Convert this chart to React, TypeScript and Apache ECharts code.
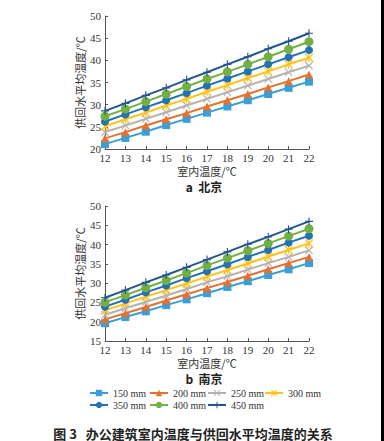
import React, { useEffect, useRef } from "react";
import * as echarts from "echarts";

const indoorTemps = [12, 13, 14, 15, 16, 17, 18, 19, 20, 21, 22];
const seriesNames = ["150 mm", "200 mm", "250 mm", "300 mm", "350 mm", "400 mm", "450 mm"];

// a 北京
const beijing150 = [21.1, 22.5, 23.9, 25.4, 26.8, 28.2, 29.6, 31.0, 32.4, 33.8, 35.2];
const beijing200 = [22.4, 23.8, 25.3, 26.7, 28.1, 29.6, 31.0, 32.4, 33.9, 35.3, 36.8];
const beijing250 = [23.8, 25.3, 26.8, 28.3, 29.8, 31.3, 32.8, 34.3, 35.8, 37.3, 38.8];
const beijing300 = [25.1, 26.7, 28.2, 29.8, 31.3, 32.9, 34.4, 36.0, 37.5, 39.1, 40.6];
const beijing350 = [26.2, 27.8, 29.4, 31.0, 32.6, 34.3, 35.9, 37.5, 39.1, 40.7, 42.3];
const beijing400 = [27.4, 29.0, 30.7, 32.4, 34.1, 35.8, 37.4, 39.1, 40.8, 42.5, 44.2];
const beijing450 = [28.6, 30.3, 32.1, 33.8, 35.6, 37.3, 39.1, 40.8, 42.6, 44.3, 46.1];

// b 南京
const nanjing150 = [19.6, 21.2, 22.7, 24.3, 25.8, 27.4, 29.0, 30.5, 32.1, 33.6, 35.2];
const nanjing200 = [20.6, 22.2, 23.8, 25.5, 27.1, 28.7, 30.3, 31.9, 33.6, 35.2, 36.8];
const nanjing250 = [21.8, 23.5, 25.1, 26.8, 28.5, 30.2, 31.8, 33.5, 35.2, 36.8, 38.5];
const nanjing300 = [23.0, 24.7, 26.5, 28.2, 29.9, 31.7, 33.4, 35.1, 36.9, 38.6, 40.3];
const nanjing350 = [23.9, 25.7, 27.6, 29.4, 31.3, 33.1, 34.9, 36.8, 38.6, 40.5, 42.3];
const nanjing400 = [25.0, 26.9, 28.8, 30.7, 32.6, 34.6, 36.5, 38.4, 40.3, 42.2, 44.1];
const nanjing450 = [26.2, 28.2, 30.2, 32.1, 34.1, 36.1, 38.1, 40.1, 42.0, 44.0, 46.0];

const beijingData = [beijing150, beijing200, beijing250, beijing300, beijing350, beijing400, beijing450];
const nanjingData = [nanjing150, nanjing200, nanjing250, nanjing300, nanjing350, nanjing400, nanjing450];

const colors = ["#3a9fd6", "#e8702f", "#b2b2b2", "#ffc21a", "#2272b4", "#72b044", "#24558f"];
const symbols = [
  "rect",
  "triangle",
  "path://M1,0L5,4L9,0L10,1L6,5L10,9L9,10L5,6L1,10L0,9L4,5L0,1Z",
  "path://M1,0L5,4L9,0L10,1L6,5L10,9L9,10L5,6L1,10L0,9L4,5L0,1ZM4.4,0H5.6V10H4.4Z",
  "circle",
  "circle",
  "path://M4.3,0H5.7V4.3H10V5.7H5.7V10H4.3V5.7H0V4.3H4.3Z",
];
const symbolSizes = [8, 8, 8, 9, 8, 9, 8];

// legend placement (row, left) for each series name
const legendLefts = [89, 149, 207, 264, 89, 149, 207];
const legendTops = [388, 388, 388, 388, 400, 400, 400];

const serifFont = "'Liberation Serif', 'DejaVu Serif', serif";
const cjkFont = "'Noto Sans CJK SC', sans-serif";

export default function App() {
  const ref = useRef<HTMLDivElement>(null);
  useEffect(() => {
    if (!ref.current) return;
    const chart = echarts.init(ref.current, undefined, { renderer: "svg" });

    const makeSeries = (data: number[][], idx: number) =>
      data.map((vals, i) => ({
        name: seriesNames[i],
        type: "line",
        xAxisIndex: idx,
        yAxisIndex: idx,
        data: vals.map((v, k) => [indoorTemps[k], v]),
        color: colors[i],
        symbol: symbols[i],
        symbolSize: symbolSizes[i],
        showAllSymbol: true,
        lineStyle: { width: 2, color: colors[i] },
        itemStyle: { color: colors[i] },
        z: 2 + i,
      }));

    const axisLine = { show: true, lineStyle: { color: "#555", width: 1 } };
    const axisTick = { show: true, inside: true, length: 3, lineStyle: { color: "#555" } };
    const axisLabelStyle = { color: "#333", fontSize: 11, fontFamily: serifFont };
    const nameStyle = { color: "#333", fontSize: 11, fontFamily: cjkFont };

    const xAxisBase = {
      type: "value",
      min: 12,
      max: 22,
      interval: 1,
      splitLine: { show: false },
      axisLine,
      axisTick,
      name: "室内温度/℃",
      nameLocation: "middle",
      nameGap: 16,
      nameMoveOverlap: false,
      nameTextStyle: nameStyle,
      axisLabel: { ...axisLabelStyle, margin: 3 },
    };
    const yAxisBase = {
      type: "value",
      max: 50,
      interval: 5,
      splitLine: { show: false },
      axisLine,
      axisTick,
      name: "供回水平均温度/℃",
      nameLocation: "middle",
      nameGap: 20,
      nameMoveOverlap: false,
      nameTextStyle: nameStyle,
      axisLabel: { ...axisLabelStyle, margin: 4 },
    };

    const legends = seriesNames.map((name, i) => ({
      left: legendLefts[i],
      top: legendTops[i],
      itemGap: 0,
      itemWidth: 18,
      itemHeight: 8,
      padding: 0,
      data: [name],
      textStyle: { fontSize: 10, fontFamily: serifFont, color: "#333" },
    }));

    chart.setOption({
      animation: false,
      backgroundColor: "#ffffff",
      grid: [
        { left: 105, top: 16, width: 204, height: 133 },
        { left: 105, top: 206, width: 204, height: 135 },
      ],
      xAxis: [
        { ...xAxisBase, gridIndex: 0 },
        { ...xAxisBase, gridIndex: 1 },
      ],
      yAxis: [
        { ...yAxisBase, gridIndex: 0, min: 20 },
        { ...yAxisBase, gridIndex: 1, min: 15 },
      ],
      legend: legends,
      graphic: [
        {
          type: "text",
          x: 204,
          y: 186,
          style: {
            text: "a  北京",
            fontSize: 12,
            fontWeight: "bold",
            fontFamily: cjkFont,
            fill: "#222",
            align: "center",
            verticalAlign: "middle",
          },
        },
        {
          type: "text",
          x: 204,
          y: 378,
          style: {
            text: "b  南京",
            fontSize: 12,
            fontWeight: "bold",
            fontFamily: cjkFont,
            fill: "#222",
            align: "center",
            verticalAlign: "middle",
          },
        },
        {
          type: "text",
          x: 193,
          y: 433,
          style: {
            text: "图 3   办公建筑室内温度与供回水平均温度的关系",
            fontSize: 13,
            fontWeight: "bold",
            fontFamily: cjkFont,
            fill: "#222",
            align: "center",
            verticalAlign: "middle",
          },
        },
        {
          type: "rect",
          shape: { x: 381, y: 0, width: 3, height: 441 },
          style: { fill: "#000" },
        },
      ],
      series: [...makeSeries(beijingData, 0), ...makeSeries(nanjingData, 1)],
    });
    return () => chart.dispose();
  }, []);

  return (
    <div
      ref={ref}
      style={{ position: "absolute", left: 0, top: 0, width: 384, height: 441 }}
    />
  );
}
